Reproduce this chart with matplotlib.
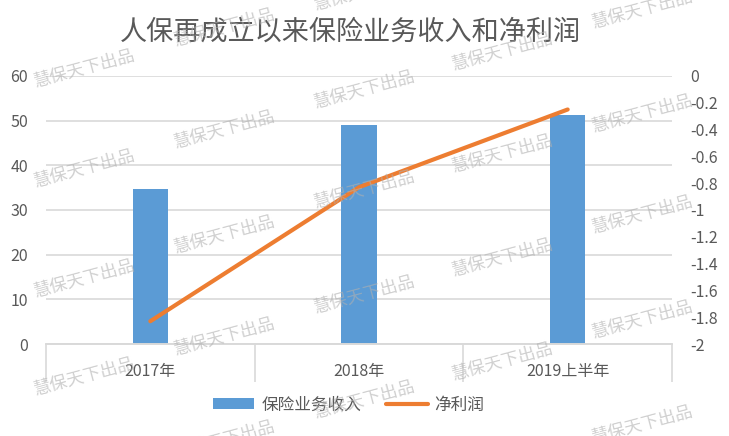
import numpy as np
import matplotlib
matplotlib.use('Agg')
import matplotlib.pyplot as plt
from matplotlib.lines import Line2D
from matplotlib.patches import Patch

plt.rcParams['font.family'] = ['Noto Sans CJK SC', 'DejaVu Sans']

# data
categories = ['2017年', '2018年', '2019上半年']
income = [34.7, 49.0, 51.2]          # 保险业务收入
net_profit = [-1.83, -0.83, -0.25]   # 净利润

title = '人保再成立以来保险业务收入和净利润'
watermark = '慧保天下出品'

text_col = '#595959'
grid_col = '#d9d9d9'
bar_col = '#5b9bd5'
line_col = '#ed7d31'

fig = plt.figure(figsize=(7.29, 4.36), dpi=100)
ax = fig.add_axes([0.0631, 0.211, 0.8587, 0.6147])
ax2 = ax.twinx()

x = np.arange(len(categories))
ax.bar(x, income, width=0.168, color=bar_col, zorder=2)
ax2.plot(x, net_profit, color=line_col, lw=3, solid_capstyle='round', zorder=3)

ax.set_xlim(-0.5, len(categories) - 0.5)
ax.set_ylim(0, 60)
ax.set_yticks(range(0, 61, 10))
ax2.set_ylim(-2, 0)
r_ticks = np.linspace(-2, 0, 11)
ax2.set_yticks(r_ticks)
ax2.set_yticklabels([f'{abs(round(v, 1)) if round(v, 1) == 0 else round(v, 1):g}' for v in r_ticks])

ax.yaxis.grid(True, color=grid_col, lw=1.2, zorder=0)
ax.set_axisbelow(True)
for a in (ax, ax2):
    for s in ('top', 'left', 'right'):
        a.spines[s].set_visible(False)
    a.spines['bottom'].set_color(grid_col)
    a.spines['bottom'].set_linewidth(1.2)

ax.set_xticks(x)
ax.set_xticklabels(categories)
ax.set_xticks(np.arange(-0.5, len(categories), 1.0), minor=True)
ax.tick_params(axis='x', which='major', length=0, pad=14, labelsize=11.5, labelcolor=text_col)
ax.tick_params(axis='x', which='minor', length=27, width=1.2, color=grid_col)
ax.tick_params(axis='y', length=0, pad=13, labelsize=11.5, labelcolor=text_col)
ax2.tick_params(axis='y', length=0, pad=13, labelsize=11.5, labelcolor=text_col)

fig.text(0.48, 0.927, title, ha='center', va='center', fontsize=19.5, color=text_col)

handles = [Patch(facecolor=bar_col, edgecolor='none'),
           Line2D([], [], color=line_col, lw=3, solid_capstyle='round')]
fig.legend(handles, ['保险业务收入', '净利润'], loc='center', bbox_to_anchor=(0.478, 0.071),
           ncol=2, frameon=False, fontsize=12, labelcolor=text_col,
           handlelength=2.5, handleheight=0.6, columnspacing=1.5, handletextpad=0.4)

# watermark positions (pixels from top-left)
wm_pos = [(85, 69), (85, 169), (85, 279), (85, 377),
          (225, 28), (225, 130), (225, 235), (225, 337), (225, 440),
          (365, -8), (365, 90), (365, 190), (365, 295), (365, 400),
          (503, 52), (503, 154), (503, 258), (503, 362),
          (643, 10), (643, 114), (643, 215), (643, 320), (643, 425)]
for px, py in wm_pos:
    fig.text(px / 729, 1 - py / 436, watermark, ha='center', va='center', rotation=15,
             fontsize=12.5, color='#b0b0b0', alpha=0.6, zorder=10)

fig.savefig('out.png', dpi=100)
